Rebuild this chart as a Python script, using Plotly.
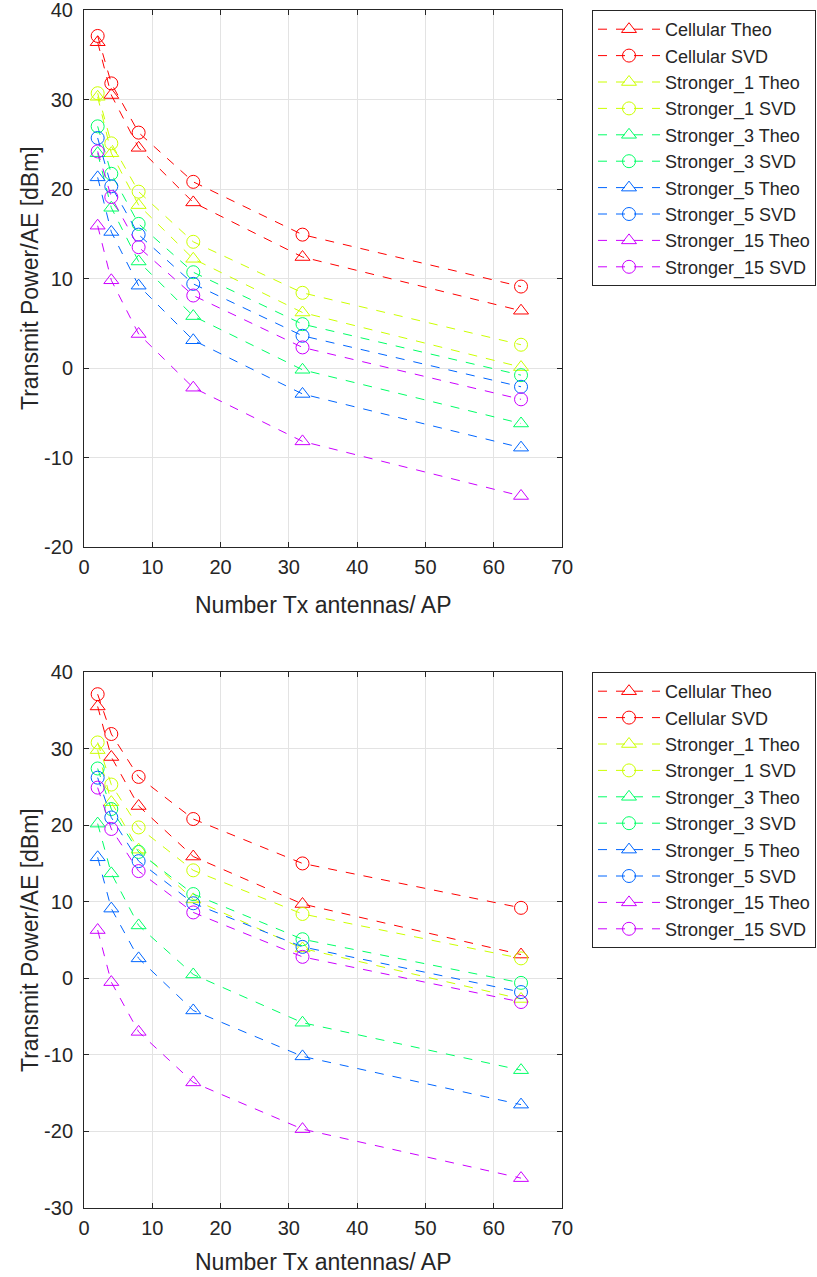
import plotly.graph_objects as go

x_ant = [2, 4, 8, 16, 32, 64]

series_names = ["Cellular Theo", "Cellular SVD", "Stronger_1 Theo", "Stronger_1 SVD",
                "Stronger_3 Theo", "Stronger_3 SVD", "Stronger_5 Theo", "Stronger_5 SVD",
                "Stronger_15 Theo", "Stronger_15 SVD"]

# Top panel values (dBm)
top_cell_theo = [36.4, 30.5, 24.6, 18.5, 12.4, 6.4]
top_cell_svd = [37.1, 31.8, 26.3, 20.8, 14.9, 9.1]
top_s1_theo = [30.3, 24.0, 18.2, 12.2, 6.2, 0.1]
top_s1_svd = [30.7, 25.1, 19.7, 14.1, 8.4, 2.6]
top_s3_theo = [24.0, 17.9, 11.9, 5.8, -0.2, -6.2]
top_s3_svd = [27.0, 21.7, 16.1, 10.7, 4.9, -0.8]
top_s5_theo = [21.3, 15.2, 9.2, 3.1, -2.9, -8.9]
top_s5_svd = [25.7, 20.3, 14.9, 9.4, 3.6, -2.1]
top_s15_theo = [15.9, 9.8, 3.8, -2.2, -8.2, -14.3]
top_s15_svd = [24.2, 19.1, 13.5, 8.1, 2.3, -3.5]

# Bottom panel values (dBm)
bot_cell_theo = [35.5, 28.9, 22.5, 15.9, 9.7, 3.1]
bot_cell_svd = [37.1, 31.9, 26.3, 20.8, 15.0, 9.2]
bot_s1_theo = [29.8, 23.0, 16.8, 10.3, 3.9, -2.7]
bot_s1_svd = [30.8, 25.3, 19.7, 14.1, 8.4, 2.6]
bot_s3_theo = [20.2, 13.7, 6.9, 0.5, -5.8, -12.0]
bot_s3_svd = [27.4, 22.1, 16.5, 11.0, 5.1, -0.6]
bot_s5_theo = [15.8, 9.1, 2.6, -4.2, -10.2, -16.5]
bot_s5_svd = [26.2, 21.0, 15.3, 9.8, 4.1, -1.8]
bot_s15_theo = [6.3, -0.5, -7.0, -13.6, -19.7, -26.1]
bot_s15_svd = [24.9, 19.5, 14.0, 8.6, 2.8, -3.1]

x_ticks = [0, 10, 20, 30, 40, 50, 60, 70]
top_y_ticks = [-20, -10, 0, 10, 20, 30, 40]
bot_y_ticks = [-30, -20, -10, 0, 10, 20, 30, 40]

x_title = "Number Tx antennas/ AP"
y_title = "Transmit Power/AE [dBm]"

top_data = [top_cell_theo, top_cell_svd, top_s1_theo, top_s1_svd, top_s3_theo,
            top_s3_svd, top_s5_theo, top_s5_svd, top_s15_theo, top_s15_svd]
bot_data = [bot_cell_theo, bot_cell_svd, bot_s1_theo, bot_s1_svd, bot_s3_theo,
            bot_s3_svd, bot_s5_theo, bot_s5_svd, bot_s15_theo, bot_s15_svd]

colors = ["#FF0000", "#CCFF00", "#00FF66", "#0066FF", "#CC00FF"]

W, H = 817, 1277
FONT = "Liberation Sans, Arial, sans-serif"
AX_COL = "#262626"

fig = go.Figure()

for data, xa, ya, leg in [(top_data, "x", "y", "legend"), (bot_data, "x2", "y2", "legend2")]:
    for i, (name, vals) in enumerate(zip(series_names, data)):
        col = colors[i // 2]
        sym = "triangle-up-open" if i % 2 == 0 else "circle-open"
        fig.add_trace(go.Scatter(
            x=x_ant, y=vals, name=name, mode="lines+markers",
            line=dict(color=col, width=1, dash="dash"),
            marker=dict(symbol=sym, size=13, color=col, line=dict(color=col, width=1)),
            xaxis=xa, yaxis=ya, legend=leg,
        ))


def py(px):
    return 1 - px / H


def px_(p):
    return p / W


axis_common = dict(
    showline=True, linecolor=AX_COL, linewidth=1, mirror="ticks",
    ticks="inside", ticklen=5, tickcolor=AX_COL, automargin=False,
    showgrid=True, gridcolor="#E3E3E3", gridwidth=1, zeroline=False,
    tickfont=dict(family=FONT, size=20, color=AX_COL), tickmode="array",
    ticklabeloverflow="allow",
)


def tt(vals):
    return dict(tickvals=vals, ticktext=[str(v) for v in vals])


xdom = [px_(84), px_(562)]
legend_common = dict(xanchor="left", yanchor="top", bordercolor=AX_COL, borderwidth=1,
                     bgcolor="white", font=dict(family=FONT, size=18, color=AX_COL),
                     itemwidth=62, tracegroupgap=0)

fig.update_layout(
    width=W, height=H,
    paper_bgcolor="white", plot_bgcolor="white",
    margin=dict(l=0, r=0, t=0, b=0),
    showlegend=True,
    xaxis=dict(domain=xdom, range=[0, 70], anchor="y", ticklabelstandoff=2, **tt(x_ticks), **axis_common),
    yaxis=dict(domain=[py(547), py(10)], range=[-20, 40], anchor="x", ticklabelstandoff=6,
               **tt(top_y_ticks), **axis_common),
    xaxis2=dict(domain=xdom, range=[0, 70], anchor="y2", ticklabelstandoff=2, **tt(x_ticks), **axis_common),
    yaxis2=dict(domain=[py(1208), py(672)], range=[-30, 40], anchor="x2", ticklabelstandoff=6,
                **tt(bot_y_ticks), **axis_common),
    legend=dict(x=px_(592), y=py(10), **legend_common),
    legend2=dict(x=px_(592), y=py(672), **legend_common),
)

title_font = dict(family=FONT, size=23, color=AX_COL)
for cy_x, cy_y in [(605, 278), (1262, 940)]:
    fig.add_annotation(text=x_title, x=px_(323), y=py(cy_x), xref="paper", yref="paper",
                       xanchor="center", yanchor="middle", showarrow=False, font=title_font)
    fig.add_annotation(text=y_title, x=px_(30), y=py(cy_y), xref="paper", yref="paper",
                       xanchor="center", yanchor="middle", showarrow=False, font=title_font,
                       textangle=-90)

fig.write_html("out.html", config={"displayModeBar": False},
               post_script="document.body.style.margin='0';document.body.style.overflow='hidden';")
